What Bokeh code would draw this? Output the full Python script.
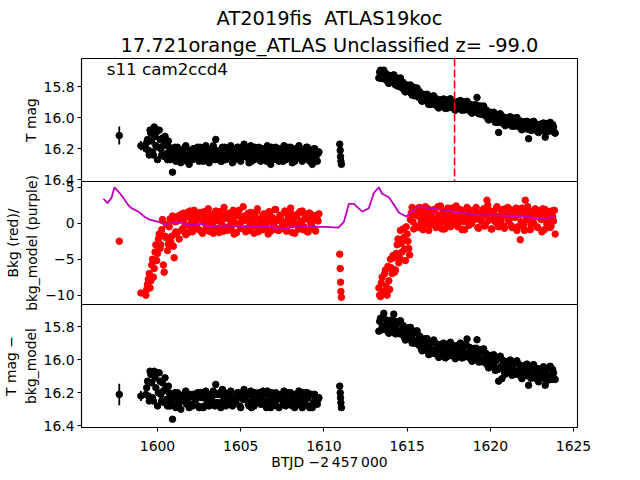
from bokeh.plotting import figure
from bokeh.models import Range1d, FixedTicker, Span, Label, Title
from bokeh.layouts import column
from bokeh.embed import file_html
from bokeh.resources import INLINE

# ---------------- data ----------------
TITLE1 = "AT2019fis \u00a0ATLAS19koc"
TITLE2 = "17.721orange_ATLAS Unclassified z= -99.0"
SECTOR = "s11 cam2ccd4"
PEAK_T = 1617.85

X_TICKS = [1600, 1605, 1610, 1615, 1620, 1625]
MAG_TICKS = [15.8, 16.0, 16.2, 16.4]
BKG_TICKS = [-10, -5, 0, 5]

# isolated early points (with error bars)
T_ISO = [1597.7, 1599.0]
MAG_ISO = [16.115, 16.18]
MAG_ISO_ERR = [0.058, 0.03]
BKG_ISO = [-2.5, -9.7]
DMAG_ISO = [16.21, 16.22]
DMAG_ISO_ERR = [0.065, 0.03]

# first orbit (cadence A)
T1 = [1599.3, 1599.4, 1599.5, 1599.6, 1599.7, 1599.8, 1599.9, 1600.0, 1600.1, 1600.2,
      1600.3, 1600.4, 1600.5, 1600.6, 1600.7, 1600.8, 1600.9, 1601.0, 1601.1, 1601.2,
      1601.3, 1601.4, 1601.5, 1601.6, 1601.7, 1601.8, 1601.9, 1602.0, 1602.1, 1602.2,
      1602.3, 1602.4, 1602.5, 1602.6, 1602.7, 1602.8, 1602.9, 1603.0, 1603.1, 1603.2,
      1603.3, 1603.4, 1603.5, 1603.6, 1603.7, 1603.8, 1603.9, 1604.0, 1604.1, 1604.2,
      1604.3, 1604.4, 1604.5, 1604.6, 1604.7, 1604.8, 1604.9, 1605.0, 1605.1, 1605.2,
      1605.3, 1605.4, 1605.5, 1605.6, 1605.7, 1605.8, 1605.9, 1606.0, 1606.1, 1606.2,
      1606.3, 1606.4, 1606.5, 1606.6, 1606.7, 1606.8, 1606.9, 1607.0, 1607.1, 1607.2,
      1607.3, 1607.4, 1607.5, 1607.6, 1607.7, 1607.8, 1607.9, 1608.0, 1608.1, 1608.2,
      1608.3, 1608.4, 1608.5, 1608.6, 1608.7, 1608.8, 1608.9, 1609.0, 1609.1, 1609.2,
      1609.3, 1609.4, 1609.5, 1609.6, 1609.7]
MAG1 = [16.20, 16.14, 16.24, 16.10, 16.22, 16.06, 16.18, 16.27, 16.08, 16.20,
        16.13, 16.25, 16.16, 16.27, 16.19, 16.24, 16.35, 16.22, 16.28, 16.19,
        16.25, 16.29, 16.21, 16.26, 16.18, 16.24, 16.30, 16.22, 16.27, 16.20,
        16.25, 16.19, 16.28, 16.23, 16.21, 16.27, 16.18, 16.24, 16.29, 16.21,
        16.26, 16.20, 16.14, 16.25, 16.22, 16.28, 16.19, 16.24, 16.27, 16.20,
        16.25, 16.18, 16.29, 16.22, 16.26, 16.19, 16.24, 16.28, 16.21, 16.17,
        16.25, 16.22, 16.29, 16.18, 16.24, 16.27, 16.20, 16.25, 16.19, 16.28,
        16.23, 16.21, 16.27, 16.18, 16.24, 16.30, 16.22, 16.26, 16.19, 16.25,
        16.28, 16.21, 16.24, 16.18, 16.27, 16.22, 16.25, 16.19, 16.29, 16.23,
        16.20, 16.26, 16.18, 16.24, 16.28, 16.21, 16.25, 16.19, 16.27, 16.22,
        16.30, 16.20, 16.25, 16.28, 16.22]
BKG1 = [-10.0, -8.5, -7.0, -8.0, -5.0, -6.3, -3.0, -4.2, -1.5, -3.0,
        0.5, -6.8, -2.0, -3.8, -0.5, -2.6, 1.0, -4.8, -1.2, 0.3,
        -2.2, 1.2, -0.8, 0.6, -1.6, 1.5, -0.3, 0.9, -1.2, 1.8,
        0.2, 1.3, -0.9, 0.5, -1.4, 1.6, -0.2, 0.8, -1.1, 1.2,
        0.0, -0.6, 1.7, 0.4, -1.3, 1.0, -0.4, 2.2, 0.7, -1.0,
        1.4, -0.3, 0.6, -1.5, 1.1, -0.1, 1.8, -0.7, 0.3, 1.0,
        -1.2, 0.9, -0.5, 1.5, 0.1, -1.4, 0.7, 2.0, -0.2, 0.5,
        -0.9, 1.3, -0.6, 0.2, 1.6, -1.1, 0.8, -0.3, 1.9, 0.4,
        -1.0, 1.1, 0.0, -0.7, 1.5, -0.4, 0.6, 2.1, -1.3, 0.9,
        -0.2, 1.2, -0.8, 0.3, 1.7, -0.5, 0.8, -1.2, 1.4, 0.1,
        -0.6, 1.0, -1.1, 0.5, 1.3]
DMAG1 = [16.21, 16.13, 16.25, 16.09, 16.23, 16.07, 16.17, 16.28, 16.08, 16.21,
         16.14, 16.26, 16.17, 16.28, 16.20, 16.25, 16.36, 16.23, 16.29, 16.20,
         16.26, 16.30, 16.22, 16.25, 16.19, 16.23, 16.29, 16.21, 16.28, 16.21,
         16.24, 16.20, 16.29, 16.22, 16.20, 16.28, 16.19, 16.25, 16.28, 16.22,
         16.25, 16.21, 16.15, 16.26, 16.21, 16.29, 16.18, 16.23, 16.28, 16.21,
         16.24, 16.19, 16.28, 16.23, 16.25, 16.20, 16.23, 16.29, 16.22, 16.18,
         16.24, 16.21, 16.28, 16.19, 16.25, 16.28, 16.21, 16.24, 16.20, 16.27,
         16.22, 16.20, 16.28, 16.19, 16.25, 16.29, 16.21, 16.27, 16.20, 16.24,
         16.29, 16.22, 16.23, 16.19, 16.28, 16.21, 16.26, 16.20, 16.28, 16.22,
         16.21, 16.27, 16.19, 16.23, 16.29, 16.22, 16.24, 16.20, 16.28, 16.21,
         16.29, 16.21, 16.24, 16.27, 16.23]

# first orbit (cadence B, between the A samples)
T1B = [1599.35, 1599.45, 1599.55, 1599.65, 1599.75, 1599.85, 1599.95, 1600.05, 1600.15, 1600.25,
       1600.35, 1600.45, 1600.55, 1600.65, 1600.75, 1600.85, 1600.95, 1601.05, 1601.15, 1601.25,
       1601.35, 1601.45, 1601.55, 1601.65, 1601.75, 1601.85, 1601.95, 1602.05, 1602.15, 1602.25,
       1602.35, 1602.45, 1602.55, 1602.65, 1602.75, 1602.85, 1602.95, 1603.05, 1603.15, 1603.25,
       1603.35, 1603.45, 1603.55, 1603.65, 1603.75, 1603.85, 1603.95, 1604.05, 1604.15, 1604.25,
       1604.35, 1604.45, 1604.55, 1604.65, 1604.75, 1604.85, 1604.95, 1605.05, 1605.15, 1605.25,
       1605.35, 1605.45, 1605.55, 1605.65, 1605.75, 1605.85, 1605.95, 1606.05, 1606.15, 1606.25,
       1606.35, 1606.45, 1606.55, 1606.65, 1606.75, 1606.85, 1606.95, 1607.05, 1607.15, 1607.25,
       1607.35, 1607.45, 1607.55, 1607.65, 1607.75, 1607.85, 1607.95, 1608.05, 1608.15, 1608.25,
       1608.35, 1608.45, 1608.55, 1608.65, 1608.75, 1608.85, 1608.95, 1609.05, 1609.15, 1609.25,
       1609.35, 1609.45, 1609.55, 1609.65]
MAG1B = [16.16, 16.21, 16.08, 16.15, 16.24, 16.12, 16.09, 16.19, 16.14, 16.24,
         16.18, 16.12, 16.23, 16.15, 16.27, 16.21, 16.26, 16.19, 16.24, 16.27,
         16.21, 16.26, 16.23, 16.19, 16.28, 16.24, 16.21, 16.26, 16.20, 16.25,
         16.22, 16.27, 16.19, 16.24, 16.28, 16.22, 16.25, 16.20, 16.26, 16.23,
         16.18, 16.27, 16.22, 16.25, 16.21, 16.28, 16.24, 16.19, 16.26, 16.23,
         16.20, 16.25, 16.28, 16.22, 16.24, 16.19, 16.27, 16.21, 16.25, 16.23,
         16.20, 16.26, 16.22, 16.28, 16.24, 16.19, 16.25, 16.21, 16.27, 16.23,
         16.20, 16.24, 16.28, 16.22, 16.26, 16.19, 16.25, 16.21, 16.27, 16.24,
         16.20, 16.23, 16.28, 16.21, 16.25, 16.19, 16.26, 16.22, 16.24, 16.28,
         16.20, 16.25, 16.23, 16.27, 16.21, 16.26, 16.19, 16.24, 16.28, 16.22,
         16.25, 16.20, 16.27, 16.23]
BKG1B = [-9.2, -7.8, -9.0, -5.8, -7.5, -4.0, -5.2, -2.2, -3.5, -0.9,
         -5.8, -1.8, -0.2, -2.9, 0.6, -1.8, -3.2, 0.2, -1.5, 1.0,
         0.6, -1.0, 1.4, -0.3, 0.9, -1.3, 1.7, 0.2, -0.8, 1.1,
         -0.4, 0.7, 1.5, -1.2, 0.3, 1.0, -0.6, 2.0, -0.1, 0.8,
         -1.4, 1.2, 0.4, -0.7, 1.6, 0.0, -1.1, 0.9, 1.3, -0.5,
         0.5, -0.9, 1.8, 0.1, -1.3, 1.1, -0.2, 0.7, 2.3, -0.8,
         0.4, 1.4, -1.0, 0.2, 1.0, -0.4, 1.6, -1.2, 0.6, 0.0,
         1.2, -0.7, 0.9, -1.5, 1.5, 0.3, -0.3, 1.9, -0.9, 0.5,
         1.1, -0.6, 0.2, 1.7, -1.1, 0.8, -0.2, 1.3, 0.4, -1.4,
         1.0, -0.5, 1.6, 0.1, -0.9, 1.2, 0.6, -1.2, 1.4, -0.1,
         0.7, -0.8, 1.1, 0.3]
DMAG1B = [16.17, 16.22, 16.07, 16.14, 16.25, 16.11, 16.08, 16.20, 16.13, 16.25,
          16.19, 16.11, 16.24, 16.16, 16.28, 16.22, 16.27, 16.20, 16.23, 16.28,
          16.22, 16.25, 16.24, 16.20, 16.27, 16.23, 16.22, 16.27, 16.21, 16.24,
          16.23, 16.28, 16.20, 16.23, 16.29, 16.21, 16.24, 16.21, 16.27, 16.22,
          16.19, 16.28, 16.21, 16.26, 16.20, 16.27, 16.25, 16.20, 16.25, 16.22,
          16.21, 16.26, 16.27, 16.23, 16.23, 16.20, 16.28, 16.22, 16.24, 16.22,
          16.21, 16.27, 16.21, 16.29, 16.23, 16.20, 16.26, 16.22, 16.26, 16.24,
          16.19, 16.25, 16.29, 16.21, 16.27, 16.20, 16.24, 16.22, 16.28, 16.23,
          16.21, 16.24, 16.27, 16.22, 16.26, 16.20, 16.25, 16.21, 16.25, 16.29,
          16.21, 16.24, 16.24, 16.28, 16.20, 16.27, 16.20, 16.23, 16.29, 16.21,
          16.26, 16.21, 16.26, 16.24]

# short cluster near the orbit gap
T_C = [1610.95, 1610.98, 1611.0, 1611.02, 1611.05]
MAG_C = [16.17, 16.21, 16.25, 16.28, 16.30]
BKG_C = [-4.3, -6.3, -8.2, -9.5, -10.3]
DMAG_C = [16.16, 16.20, 16.23, 16.26, 16.29]

# second orbit (cadence A)
T2 = [1613.3, 1613.4, 1613.5, 1613.6, 1613.7, 1613.8, 1613.9, 1614.0, 1614.1, 1614.2,
      1614.3, 1614.4, 1614.5, 1614.6, 1614.7, 1614.8, 1614.9, 1615.0, 1615.1, 1615.2,
      1615.3, 1615.4, 1615.5, 1615.6, 1615.7, 1615.8, 1615.9, 1616.0, 1616.1, 1616.2,
      1616.3, 1616.4, 1616.5, 1616.6, 1616.7, 1616.8, 1616.9, 1617.0, 1617.1, 1617.2,
      1617.3, 1617.4, 1617.5, 1617.6, 1617.7, 1617.8, 1617.9, 1618.0, 1618.1, 1618.2,
      1618.3, 1618.4, 1618.5, 1618.6, 1618.7, 1618.8, 1618.9, 1619.0, 1619.1, 1619.2,
      1619.3, 1619.4, 1619.5, 1619.6, 1619.7, 1619.8, 1619.9, 1620.0, 1620.1, 1620.2,
      1620.3, 1620.4, 1620.5, 1620.6, 1620.7, 1620.8, 1620.9, 1621.0, 1621.1, 1621.2,
      1621.3, 1621.4, 1621.5, 1621.6, 1621.7, 1621.8, 1621.9, 1622.0, 1622.1, 1622.2,
      1622.3, 1622.4, 1622.5, 1622.6, 1622.7, 1622.8, 1622.9, 1623.0, 1623.1, 1623.2,
      1623.3, 1623.4, 1623.5, 1623.6, 1623.7, 1623.8, 1623.9]
MAG2 = [15.745, 15.695, 15.735, 15.695, 15.755, 15.735, 15.780, 15.730, 15.757, 15.725,
        15.790, 15.745, 15.785, 15.745, 15.810, 15.790, 15.835, 15.790, 15.820, 15.790,
        15.855, 15.805, 15.850, 15.810, 15.870, 15.850, 15.895, 15.850, 15.880, 15.850,
        15.915, 15.863, 15.900, 15.860, 15.918, 15.895, 15.938, 15.885, 15.913, 15.880,
        15.941, 15.887, 15.923, 15.879, 15.935, 15.911, 15.952, 15.898, 15.924, 15.890,
        15.952, 15.900, 15.937, 15.895, 15.952, 15.929, 15.971, 15.918, 15.945, 15.870,
        15.975, 15.925, 15.965, 15.925, 15.987, 15.968, 16.015, 15.965, 15.995, 15.965,
        16.030, 15.979, 16.095, 15.975, 16.033, 16.010, 16.052, 16.000, 16.027, 15.994,
        16.055, 16.003, 16.041, 15.999, 16.057, 16.035, 16.078, 16.026, 16.055, 16.023,
        16.135, 16.031, 16.067, 16.023, 16.079, 16.055, 16.096, 16.042, 16.068, 16.034,
        16.125, 16.040, 16.075, 16.030, 16.085, 16.060, 16.100]
BKG2 = [-9.0, -10.2, -7.5, -9.5, -6.5, -10.0, -8.0, -5.0, -7.0, -4.8,
        -6.5, -3.0, -5.5, -1.0, -4.0, -2.0, -5.2, -1.5, -3.5, 0.5,
        2.2, -0.8, 1.2, 2.0, -0.6, 0.9, 1.6, -0.2, 2.3, 0.4,
        -1.0, 1.4, 0.7, 1.9, -0.4, 0.2, 1.1, 2.4, -0.8, 0.6,
        1.7, 0.0, 1.3, -0.5, 2.1, 0.8, -0.1, 1.5, 0.3, 1.9,
        -0.9, 1.0, 0.5, 2.2, -0.3, 1.2, 0.1, 1.8, 1.6, 0.6,
        -0.7, 1.4, 0.9, 2.0, -0.2, 3.2, 0.4, 1.7, -0.8, 1.3,
        0.2, 2.3, -0.5, 0.7, 1.5, -0.4, 2.0, 1.0, 0.3, 1.9,
        -0.6, 1.2, 0.8, -1.0, 1.6, -2.3, 2.1, -0.3, 3.2, 0.5,
        1.8, -0.9, 1.4, 0.0, 2.0, -0.5, 0.9, 1.5, -1.2, 0.6,
        1.9, -0.1, 1.2, -0.6, 1.7, 0.3, -1.5]
DMAG2 = [15.828, 15.750, 15.801, 15.720, 15.819, 15.780, 15.841, 15.762, 15.799, 15.725,
         15.845, 15.770, 15.825, 15.765, 15.850, 15.816, 15.882, 15.808, 15.849, 15.805,
         15.900, 15.827, 15.884, 15.826, 15.913, 15.880, 15.947, 15.874, 15.916, 15.873,
         15.970, 15.892, 15.944, 15.881, 15.963, 15.925, 15.987, 15.909, 15.947, 15.900,
         15.990, 15.910, 15.960, 15.895, 15.975, 15.935, 15.995, 15.915, 15.950, 15.900,
         15.990, 15.912, 15.965, 15.875, 15.985, 15.947, 16.010, 15.932, 15.970, 15.880,
         16.015, 15.940, 15.995, 15.935, 16.020, 15.985, 16.050, 15.975, 16.015, 15.970,
         16.065, 15.988, 16.130, 15.979, 16.115, 16.025, 16.088, 16.011, 16.049, 16.002,
         16.095, 16.017, 16.070, 16.007, 16.090, 16.052, 16.115, 16.037, 16.075, 16.027,
         16.155, 16.042, 16.093, 16.030, 16.111, 16.072, 16.134, 16.055, 16.092, 16.043,
         16.155, 16.055, 16.105, 16.040, 16.120, 16.080, 16.120]

# second orbit (cadence B)
T2B = [1613.35, 1613.45, 1613.55, 1613.65, 1613.75, 1613.85, 1613.95, 1614.05, 1614.15, 1614.25,
       1614.35, 1614.45, 1614.55, 1614.65, 1614.75, 1614.85, 1614.95, 1615.05, 1615.15, 1615.25,
       1615.35, 1615.45, 1615.55, 1615.65, 1615.75, 1615.85, 1615.95, 1616.05, 1616.15, 1616.25,
       1616.35, 1616.45, 1616.55, 1616.65, 1616.75, 1616.85, 1616.95, 1617.05, 1617.15, 1617.25,
       1617.35, 1617.45, 1617.55, 1617.65, 1617.75, 1617.85, 1617.95, 1618.05, 1618.15, 1618.25,
       1618.35, 1618.45, 1618.55, 1618.65, 1618.75, 1618.85, 1618.95, 1619.05, 1619.15, 1619.25,
       1619.35, 1619.45, 1619.55, 1619.65, 1619.75, 1619.85, 1619.95, 1620.05, 1620.15, 1620.25,
       1620.35, 1620.45, 1620.55, 1620.65, 1620.75, 1620.85, 1620.95, 1621.05, 1621.15, 1621.25,
       1621.35, 1621.45, 1621.55, 1621.65, 1621.75, 1621.85, 1621.95, 1622.05, 1622.15, 1622.25,
       1622.35, 1622.45, 1622.55, 1622.65, 1622.75, 1622.85, 1622.95, 1623.05, 1623.15, 1623.25,
       1623.35, 1623.45, 1623.55, 1623.65, 1623.75, 1623.85]
MAG2B = [15.708, 15.748, 15.698, 15.738, 15.718, 15.773, 15.743, 15.766, 15.729, 15.778,
         15.755, 15.798, 15.748, 15.790, 15.773, 15.828, 15.800, 15.828, 15.793, 15.843,
         15.818, 15.860, 15.813, 15.853, 15.833, 15.888, 15.860, 15.888, 15.853, 15.903,
         15.877, 15.914, 15.863, 15.902, 15.879, 15.932, 15.899, 15.922, 15.884, 15.931,
         15.902, 15.938, 15.884, 15.920, 15.896, 15.947, 15.913, 15.934, 15.895, 15.941,
         15.914, 15.951, 15.899, 15.936, 15.913, 15.965, 15.932, 15.954, 15.917, 15.964,
         15.938, 15.978, 15.928, 15.969, 15.950, 16.007, 15.978, 16.003, 15.968, 16.018,
         15.992, 16.031, 15.979, 16.017, 15.994, 16.046, 16.014, 16.036, 15.998, 16.045,
         16.017, 16.055, 16.003, 16.041, 16.019, 16.072, 16.040, 16.063, 16.027, 16.074,
         16.046, 16.082, 16.028, 16.064, 16.040, 16.091, 16.057, 16.078, 16.039, 16.085,
         16.055, 16.090, 16.035, 16.070, 16.045, 16.095]
BKG2B = [-10.0, -8.3, -9.8, -7.0, -8.8, -6.0, -9.2, -6.2, -4.5, -6.8,
         -4.2, -2.2, -4.8, -2.8, -0.8, -3.6, -0.5, -2.5, -4.4, 1.4,
         0.2, 1.8, -0.4, 1.0, 2.2, 0.3, -0.9, 1.5, 0.8, 2.0,
         -0.2, 1.2, 0.5, 1.8, -0.6, 2.3, 0.9, 0.1, 1.6, -0.8,
         1.1, 2.1, 0.4, -0.3, 1.4, 0.7, 2.4, -0.5, 1.0, 1.7,
         0.2, -0.9, 1.3, 2.0, 0.6, -0.1, 1.5, 0.9, 2.2, -0.6,
         1.1, 0.3, 1.8, -0.4, 1.2, 2.5, 0.5, -0.8, 1.6, 0.8,
         2.0, -0.2, 1.0, 0.4, 1.9, -0.7, 1.3, 2.2, 0.6, -0.3,
         1.5, 0.9, 2.1, -0.5, 1.2, 0.2, 1.7, -1.0, 1.0, 2.3,
         0.4, -0.2, 1.4, 0.8, 1.9, -0.6, 1.1, 0.5, 2.0, -0.9,
         1.3, 0.3, 1.6, -0.4, 0.9, 1.8]
DMAG2B = [15.769, 15.821, 15.747, 15.798, 15.760, 15.831, 15.787, 15.813, 15.760, 15.823,
          15.788, 15.843, 15.773, 15.828, 15.793, 15.869, 15.830, 15.861, 15.812, 15.878,
          15.844, 15.901, 15.833, 15.890, 15.857, 15.934, 15.896, 15.928, 15.880, 15.947,
          15.911, 15.963, 15.890, 15.942, 15.904, 15.976, 15.933, 15.960, 15.909, 15.970,
          15.930, 15.980, 15.905, 15.955, 15.915, 15.985, 15.940, 15.965, 15.910, 15.970,
          15.931, 15.984, 15.911, 15.964, 15.926, 15.999, 15.956, 15.984, 15.931, 15.994,
          15.958, 16.013, 15.943, 15.998, 15.963, 16.038, 15.998, 16.028, 15.978, 16.043,
          16.007, 16.060, 15.988, 16.041, 16.004, 16.077, 16.035, 16.063, 16.011, 16.074,
          16.036, 16.089, 16.016, 16.069, 16.031, 16.104, 16.061, 16.089, 16.036, 16.099,
          16.061, 16.113, 16.039, 16.091, 16.052, 16.123, 16.080, 16.106, 16.053, 16.114,
          16.075, 16.125, 16.050, 16.100, 16.060, 16.115]

# background model (purple line)
T_MODEL = [1596.75, 1596.99, 1597.23, 1597.41, 1597.65, 1597.95, 1598.25, 1598.43, 1598.86,
           1599.22, 1599.52, 1600.06, 1600.42, 1600.84, 1601.26, 1601.62, 1602.04, 1602.64,
           1603.24, 1604.02, 1604.5, 1605.05, 1605.6, 1606.07, 1606.85, 1607.33, 1607.87,
           1608.47, 1609.25, 1610.03, 1610.87, 1611.2, 1611.5, 1611.8, 1612.3, 1612.7,
           1613.0, 1613.3, 1613.5, 1613.9, 1614.2, 1614.5, 1614.96, 1615.26, 1615.68,
           1616.28, 1617.07, 1617.85, 1618.7, 1619.3, 1620.25, 1621.27, 1622.3, 1622.9,
           1623.5, 1623.86]
BKG_MODEL = [3.4, 2.8, 3.5, 5.0, 4.4, 3.5, 2.5, 2.1, 1.6,
             0.9, 0.5, 0.2, -0.2, 0.0, 0.2, -0.1, -0.3, -0.1,
             -0.5, -0.3, -0.4, -0.5, -0.4, -0.5, -0.5, -0.9, -0.6,
             -0.5, -0.5, -0.5, -0.6, 0.2, 2.7, 2.7, 1.6, 2.1,
             4.2, 5.0, 4.1, 3.6, 2.6, 1.5, 0.9, 1.6, 2.3,
             2.1, 1.85, 1.6, 1.3, 1.1, 1.1, 1.0, 0.9, 0.6,
             0.7, 1.0]

# ---------------- layout ----------------
FONT = "DejaVu Sans"
LEFT, RIGHT, PW, PH = 72, 40, 496, 123
TOP, BOTTOM, E = 58, 48, 12
DOT = 6.5
X0, X1 = 1595.43, 1625.24
MAG_TOP, MAG_BOT = 15.62, 16.41

x_range = Range1d(X0, X1)


def style(p):
    p.outline_line_color = "black"
    p.outline_line_width = 1.1
    p.border_fill_color = None
    p.background_fill_color = "white"
    p.xgrid.visible = False
    p.ygrid.visible = False
    for ax in list(p.xaxis) + list(p.yaxis):
        ax.axis_line_color = "black"
        ax.axis_line_width = 1.1
        ax.major_tick_line_color = "black"
        ax.major_tick_line_width = 1.1
        ax.major_tick_out = 4
        ax.major_tick_in = 0
        ax.minor_tick_line_color = None
        ax.major_label_text_font = FONT
        ax.major_label_text_font_size = "13.9px"
        ax.major_label_text_color = "black"
        ax.axis_label_text_font = FONT
        ax.axis_label_text_font_size = "13.9px"
        ax.axis_label_text_font_style = "normal"
        ax.axis_label_text_color = "black"
        ax.major_label_standoff = 3
        ax.axis_label_standoff = 2


def make_fig(yr, top, bottom, xaxis=False):
    p = figure(frame_width=PW, frame_height=PH, x_range=x_range, y_range=yr,
               min_border_left=LEFT, min_border_right=RIGHT,
               min_border_top=top, min_border_bottom=bottom,
               x_axis_location="below" if xaxis else None,
               output_backend="svg", toolbar_location=None, title=None)
    style(p)
    return p


def mag_labels():
    return {v: f"{v:.1f}" for v in MAG_TICKS}


# ---- top panel: T mag ----
p1 = make_fig(Range1d(MAG_BOT, MAG_TOP), TOP, E)
p1.yaxis.axis_label = "T mag"
p1.yaxis.ticker = FixedTicker(ticks=MAG_TICKS)
p1.yaxis.major_label_overrides = mag_labels()
p1.segment(T_ISO, [m - e for m, e in zip(MAG_ISO, MAG_ISO_ERR)],
           T_ISO, [m + e for m, e in zip(MAG_ISO, MAG_ISO_ERR)],
           line_color="black", line_width=1.8)
for tt, mm in ((T_ISO, MAG_ISO), (T1, MAG1), (T1B, MAG1B), (T_C, MAG_C),
               (T2, MAG2), (T2B, MAG2B)):
    p1.scatter(tt, mm, size=DOT, color="black")
p1.add_layout(Span(location=PEAK_T, dimension="height", line_color="red",
                   line_dash="8 3", line_width=1.6))
p1.add_layout(Label(x=1596.95, y=MAG_TOP + 0.002, text=SECTOR, text_baseline="top",
                    text_font=FONT, text_font_size="16.7px", text_color="black"))
t2 = Title(text=TITLE2, align="center", text_font=FONT, text_font_size="19.4px",
           text_font_style="normal", text_color="black", standoff=4)
p1.add_layout(t2, "above")
t1 = Title(text=TITLE1, align="center", text_font=FONT, text_font_size="19.4px",
           text_font_style="normal", text_color="black", standoff=0)
p1.add_layout(t1, "above")

# ---- middle panel: background ----
p2 = make_fig(Range1d(-11.3, 5.8), E, E)
p2.margin = (-2 * E, 0, 0, 0)
p2.yaxis.axis_label = "Bkg (red)/\nbkg_model (purple)"
p2.yaxis.ticker = FixedTicker(ticks=BKG_TICKS)
p2.yaxis.major_label_overrides = {v: (str(v).replace("-", "\u2212")) for v in BKG_TICKS}
for tt, bb in ((T_ISO, BKG_ISO), (T1, BKG1), (T1B, BKG1B), (T_C, BKG_C),
               (T2, BKG2), (T2B, BKG2B)):
    p2.scatter(tt, bb, size=DOT, color="red")
p2.line(T_MODEL, BKG_MODEL, line_color="#bf00bf", line_width=1.8)

# ---- bottom panel: mag - bkg model ----
p3 = make_fig(Range1d(16.41, 15.667), E, BOTTOM, xaxis=True)
p3.margin = (-2 * E, 0, 0, 0)
p3.yaxis.axis_label = "T mag \u2212\nbkg_model"
p3.yaxis.ticker = FixedTicker(ticks=MAG_TICKS)
p3.yaxis.major_label_overrides = mag_labels()
p3.xaxis.ticker = FixedTicker(ticks=X_TICKS)
p3.xaxis.axis_label = "BTJD \u22122\u2009457\u2009000"
p3.xaxis.major_label_standoff = 9
p3.xaxis.axis_label_standoff = 0
p3.segment(T_ISO, [m - e for m, e in zip(DMAG_ISO, DMAG_ISO_ERR)],
           T_ISO, [m + e for m, e in zip(DMAG_ISO, DMAG_ISO_ERR)],
           line_color="black", line_width=1.8)
for tt, mm in ((T_ISO, DMAG_ISO), (T1, DMAG1), (T1B, DMAG1B), (T_C, DMAG_C),
               (T2, DMAG2), (T2B, DMAG2B)):
    p3.scatter(tt, mm, size=DOT, color="black")

layout = column(p1, p2, p3, spacing=0)
open("out.html", "w").write(file_html(layout, INLINE))
